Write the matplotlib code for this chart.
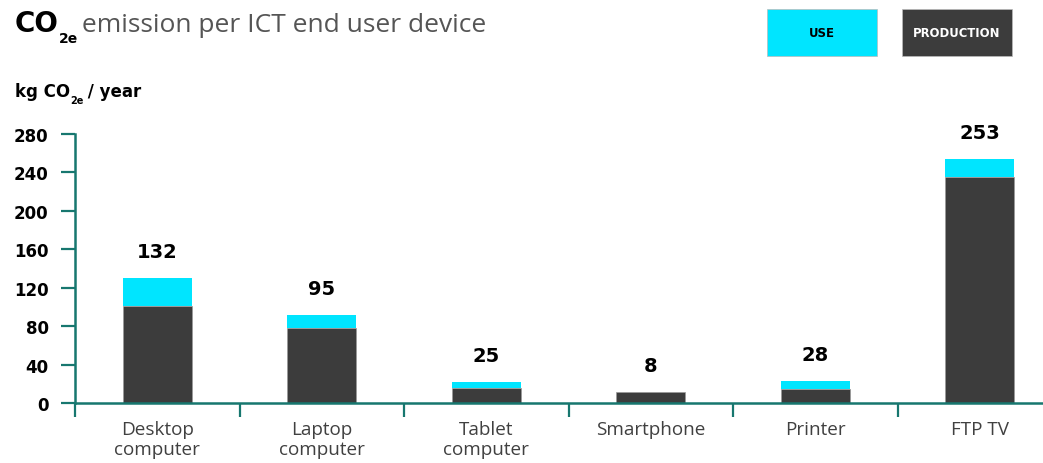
import matplotlib
matplotlib.use("Agg")
import matplotlib.pyplot as plt
from matplotlib.patches import Rectangle

categories = ["Desktop\ncomputer", "Laptop\ncomputer", "Tablet\ncomputer", "Smartphone", "Printer", "FTP TV"]
production = [101, 78, 15.6, 11.5, 14.6, 235]
use = [29, 13.6, 6.3, 0, 8.3, 18.7]
totals_label = [132, 95, 25, 8, 28, 253]
yticks = [0, 40, 80, 120, 160, 200, 240, 280]

CYAN = "#00E5FF"
DARK = "#3C3C3C"
TEAL = "#17776F"

fig = plt.figure(figsize=(10.43, 4.64), dpi=100)
ax = fig.add_axes([75 / 1043, 60 / 464, 987 / 1043, 269 / 464])

x = list(range(len(categories)))
ax.bar(x, production, width=0.42, color=DARK, edgecolor="#9a9a9a", linewidth=0.5, zorder=2)
ax.bar(x, use, bottom=production, width=0.42, color=CYAN, linewidth=0, zorder=2)

for xi, p, u, lab in zip(x, production, use, totals_label):
    ax.text(xi, p + u + 28, str(lab), ha="center", va="center",
            fontsize=14, fontweight="bold", color="black", family="DejaVu Sans")

ax.set_xlim(-0.5, len(categories) - 0.5)
ax.set_ylim(0, 280)
ax.set_yticks(yticks)
ax.set_yticklabels([str(v) for v in yticks], fontsize=12, fontweight="bold", family="DejaVu Sans")
ax.tick_params(axis="y", direction="out", length=10, width=1.6, color=TEAL, pad=9)

ax.set_xticks(x)
ax.set_xticklabels(categories, fontsize=13.6, color="#404040", family="Open Sans", linespacing=1.2)
ax.set_xticks([i - 0.5 for i in range(len(categories) + 1)], minor=True)
ax.tick_params(axis="x", which="major", length=0, pad=12)
ax.tick_params(axis="x", which="minor", direction="out", length=10, width=1.6, color=TEAL)

for s in ["top", "right"]:
    ax.spines[s].set_visible(False)
for s in ["left", "bottom"]:
    ax.spines[s].set_color(TEAL)
    ax.spines[s].set_linewidth(1.8)

# Title
t1 = fig.text(15 / 1043, 1 - 32 / 464, "CO", fontsize=20, fontweight="bold", family="DejaVu Sans", color="black")
t2 = fig.text(0, 0, "2e", fontsize=10, fontweight="bold", family="DejaVu Sans", color="black")
t3 = fig.text(0, 0, " emission per ICT end user device", fontsize=19, family="Open Sans", color="#555555")
fig.canvas.draw()
r = fig.canvas.get_renderer()
bb = t1.get_window_extent(r)
t2.set_position(((bb.x1 + 0) / fig.bbox.width, (bb.y0 - 5) / fig.bbox.height))
fig.canvas.draw()
bb2 = t2.get_window_extent(r)
t3.set_position(((bb2.x1 - 3) / fig.bbox.width, t1.get_position()[1]))

# Y label
y1 = fig.text(15 / 1043, 1 - 97 / 464, "kg CO", fontsize=12, fontweight="bold", family="DejaVu Sans")
fig.canvas.draw()
b = y1.get_window_extent(r)
y2 = fig.text((b.x1 + 0) / fig.bbox.width, (b.y0 - 3) / fig.bbox.height, "2e", fontsize=7,
              fontweight="bold", family="DejaVu Sans")
fig.canvas.draw()
b2 = y2.get_window_extent(r)
fig.text((b2.x1 - 2) / fig.bbox.width, 1 - 97 / 464, " / year", fontsize=12, fontweight="bold", family="DejaVu Sans")

# Legend boxes
for (x0, x1, col, txt, tcol) in [(767, 877, CYAN, "USE", "black"), (902, 1012, DARK, "PRODUCTION", "white")]:
    fig.patches.append(Rectangle((x0 / 1043, 1 - 57 / 464), (x1 - x0) / 1043, 47 / 464,
                                 transform=fig.transFigure, facecolor=col, edgecolor="#bbbbbb",
                                 linewidth=0.5))
    fig.text((x0 + x1) / 2 / 1043, 1 - 33.5 / 464, txt, ha="center", va="center", fontsize=8.4,
             fontweight="bold", color=tcol, family="DejaVu Sans")

fig.savefig("out.png", dpi=100)
